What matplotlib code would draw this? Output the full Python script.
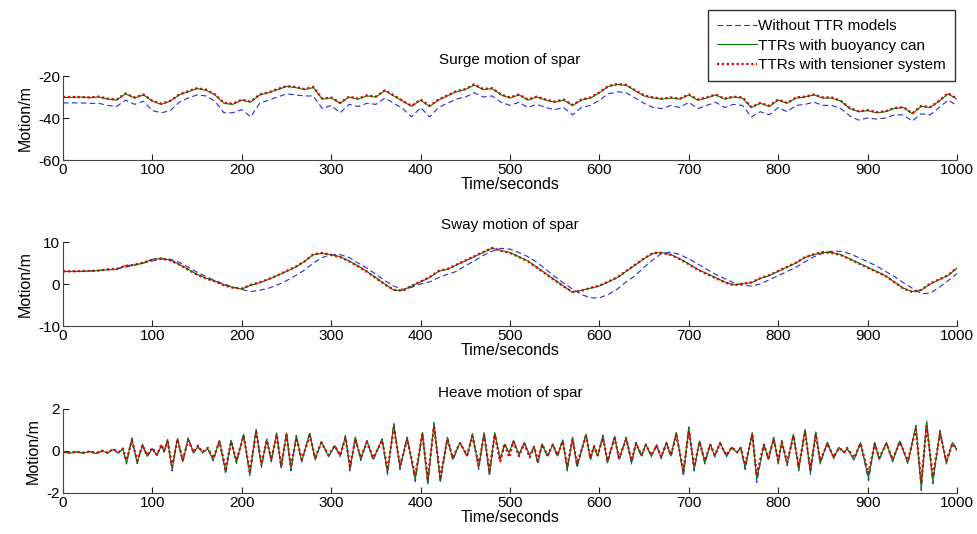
import numpy as np
import matplotlib
matplotlib.use("Agg")
import matplotlib.pyplot as plt

plt.rcParams['font.family'] = ['Liberation Sans', 'DejaVu Sans']
plt.rcParams['axes.unicode_minus'] = False

labels = ["Without TTR models", "TTRs with buoyancy can", "TTRs with tensioner system"]

# surge / sway are read every 10 s
t_10 = np.arange(0, 1001, 10)

surge_without = [
    -32.8, -32.8, -32.8, -33.0, -33.0, -34.0, -34.5, -31.5, -33.5, -32.0,
    -36.5, -37.5, -36.5, -32.5, -30.5, -29.0, -29.5, -32.0, -37.5, -37.5,
    -36.0, -39.5, -33.0, -31.5, -30.0, -28.5, -29.0, -29.5, -29.5, -35.5,
    -34.0, -37.5, -33.5, -34.5, -33.0, -33.5, -30.5, -33.0, -35.5, -39.5,
    -35.0, -39.5, -35.0, -33.0, -31.0, -30.0, -28.0, -30.0, -29.5, -32.5,
    -34.0, -32.5, -35.0, -33.5, -35.0, -36.0, -35.0, -38.5, -35.0, -34.0,
    -31.5, -28.5, -27.5, -28.0, -30.5, -33.0, -35.0, -35.5, -34.0, -35.0,
    -32.5, -35.5, -34.0, -32.5, -35.0, -33.5, -34.0, -39.5, -37.0, -38.5,
    -35.0, -37.0, -34.0, -33.5, -32.5, -34.0, -34.0, -35.5, -39.0, -41.0,
    -40.0, -40.5, -40.0, -38.5, -38.5, -41.5, -38.0, -38.5, -35.0, -31.5,
    -34.0]
surge_buoy = [
    -30.2, -30.2, -30.0, -30.3, -30.0, -31.0, -31.5, -28.5, -30.5, -29.0,
    -32.0, -33.5, -32.0, -29.0, -27.5, -26.0, -26.8, -29.0, -33.0, -33.5,
    -31.5, -32.5, -29.0, -28.0, -26.5, -25.0, -25.5, -26.5, -25.5, -31.0,
    -30.5, -33.0, -30.0, -31.0, -29.5, -30.0, -27.0, -29.5, -32.0, -34.5,
    -31.5, -34.5, -31.5, -29.5, -27.5, -26.5, -24.3, -26.5, -26.0, -29.0,
    -30.5, -29.0, -31.5, -30.0, -31.5, -32.5, -31.5, -34.0, -31.5, -30.5,
    -28.0, -25.0, -24.0, -24.5, -27.0, -29.5, -30.5, -31.0, -30.5, -31.0,
    -29.0, -31.5, -30.5, -29.0, -31.0, -30.0, -30.5, -35.0, -33.0, -34.5,
    -31.5, -33.0, -30.5, -30.0, -29.0, -30.5, -30.5, -32.0, -35.5, -37.0,
    -36.5, -37.5, -37.0, -35.5, -35.0, -38.0, -34.5, -35.0, -32.0, -28.5,
    -31.0]
surge_tens = [
    -30.0, -30.0, -30.0, -30.2, -29.8, -30.8, -31.2, -28.3, -30.2, -28.8,
    -31.8, -33.2, -31.8, -28.8, -27.2, -25.8, -26.5, -28.8, -32.8, -33.2,
    -31.2, -32.2, -28.8, -27.8, -26.2, -24.8, -25.2, -26.2, -25.2, -30.8,
    -30.2, -32.8, -29.8, -30.8, -29.2, -29.8, -26.8, -29.2, -31.8, -34.2,
    -31.2, -34.2, -31.2, -29.2, -27.2, -26.2, -24.0, -26.2, -25.8, -28.8,
    -30.2, -28.8, -31.2, -29.8, -31.2, -32.2, -31.2, -33.8, -31.2, -30.2,
    -27.8, -24.8, -23.8, -24.2, -26.8, -29.2, -30.2, -30.8, -30.2, -30.8,
    -28.8, -31.2, -30.2, -28.8, -30.8, -29.8, -30.2, -34.8, -32.8, -34.2,
    -31.2, -32.8, -30.2, -29.8, -28.8, -30.2, -30.2, -31.8, -35.2, -36.8,
    -36.2, -37.2, -36.8, -35.2, -34.8, -37.8, -34.2, -34.8, -31.8, -28.2,
    -30.8]

sway_without = [
    3.0, 3.0, 3.0, 3.1, 3.2, 3.4, 3.6, 4.0, 4.5, 5.0,
    5.5, 6.0, 5.9, 5.2, 4.0, 2.8, 1.8, 0.8, 0.0, -0.7,
    -1.3, -1.8, -1.5, -1.0, -0.2, 0.8, 2.0, 3.3, 5.0, 6.3,
    7.0, 7.0, 6.3, 5.0, 3.8, 2.3, 0.8, -0.5, -1.3, -0.8,
    0.0, 0.5, 1.5, 2.3, 3.0, 4.3, 5.5, 6.8, 7.8, 8.5,
    8.3, 7.5, 6.5, 5.2, 3.5, 1.8, 0.2, -1.2, -2.5, -3.3,
    -3.3, -2.5, -1.2, 0.5, 2.0, 4.0, 5.8, 7.3, 7.6, 7.0,
    6.0, 4.8, 3.5, 2.3, 1.3, 0.3, -0.3, -0.5, 0.0, 1.0,
    2.0, 3.0, 4.0, 5.3, 6.5, 7.3, 7.8, 7.8, 7.2, 6.3,
    5.3, 4.3, 3.0, 1.8, 0.3, -1.0, -2.3, -2.2, -0.8, 0.8,
    2.5]
sway_buoy = [
    3.0, 3.0, 3.0, 3.1, 3.2, 3.4, 3.5, 4.4, 4.5, 5.0,
    5.9, 6.0, 5.7, 4.7, 3.5, 2.3, 1.4, 0.7, -0.2, -0.8,
    -1.2, -0.3, 0.3, 1.1, 2.0, 3.0, 4.0, 5.3, 7.0, 7.3,
    7.0, 6.5, 5.5, 4.3, 3.0, 1.5, 0.0, -1.5, -1.5, -0.5,
    0.5, 1.5, 3.0, 3.5, 4.5, 5.5, 6.5, 7.5, 8.5, 8.0,
    7.5, 6.5, 5.5, 4.0, 2.5, 1.0, -0.5, -2.0, -1.5, -1.0,
    -0.5, 0.5, 1.5, 3.0, 4.5, 6.0, 7.3, 7.5, 7.0, 6.0,
    4.8, 3.5, 2.5, 1.5, 0.5, -0.2, 0.0, 0.3, 1.3, 2.0,
    3.0, 4.0, 5.0, 6.3, 7.0, 7.5, 7.5, 7.0, 6.0, 5.0,
    4.0, 3.0, 2.0, 0.5, -1.0, -1.8, -1.5, 0.0, 1.0, 2.0,
    3.8]
sway_tens = [
    3.0, 3.0, 3.1, 3.1, 3.2, 3.5, 3.6, 4.3, 4.6, 5.1,
    5.8, 6.1, 5.6, 4.6, 3.4, 2.2, 1.3, 0.6, -0.3, -0.9,
    -1.1, -0.2, 0.4, 1.2, 2.1, 3.1, 4.1, 5.4, 7.1, 7.4,
    6.9, 6.4, 5.4, 4.2, 2.9, 1.4, -0.1, -1.4, -1.6, -0.4,
    0.6, 1.6, 3.1, 3.6, 4.6, 5.6, 6.6, 7.6, 8.6, 7.9,
    7.4, 6.4, 5.4, 3.9, 2.4, 0.9, -0.6, -1.9, -1.6, -0.9,
    -0.4, 0.6, 1.6, 3.1, 4.6, 6.1, 7.4, 7.4, 6.9, 5.9,
    4.7, 3.4, 2.4, 1.4, 0.4, -0.3, 0.1, 0.4, 1.4, 2.1,
    3.1, 4.1, 5.1, 6.4, 7.1, 7.6, 7.4, 6.9, 5.9, 4.9,
    3.9, 2.9, 1.9, 0.4, -1.1, -1.9, -1.4, 0.1, 1.1, 2.1,
    3.9]

# heave is read at its peaks and troughs
heave_t = [
    0, 8, 15, 22, 30, 37, 44, 50, 56, 62,
    67, 71, 77, 83, 89, 94, 100, 105, 110, 113,
    117, 122, 128, 134, 140, 146, 151, 156, 162, 168,
    175, 182, 188, 194, 202, 209, 216, 222, 228, 233,
    239, 244, 250, 255, 261, 267, 276, 282, 289, 297,
    304, 310, 316, 321, 327, 333, 340, 347, 357, 363,
    370, 377, 385, 394, 402, 408, 415, 422, 430, 436,
    444, 452, 458, 465, 471, 477, 483, 489, 494, 499,
    504, 510, 516, 522, 527, 531, 536, 542, 548, 553,
    559, 564, 570, 575, 585, 590, 594, 598, 604, 609,
    617, 622, 630, 636, 641, 647, 652, 658, 664, 669,
    675, 680, 686, 694, 700, 706, 712, 718, 724, 729,
    735, 742, 748, 754, 758, 763, 771, 776, 784, 789,
    795, 800, 804, 810, 817, 823, 830, 836, 842, 847,
    855, 862, 868, 874, 877, 885, 892, 901, 908, 913,
    921, 928, 936, 945, 954, 960, 966, 973, 981, 988,
    995, 1000]
heave_without = [
    -0.05, -0.1, -0.05, -0.1, -0.03, -0.12, 0.0, -0.1, 0.08, -0.12,
    0.12, -0.62, 0.62, -0.6, 0.32, -0.28, 0.1, -0.22, 0.28, -0.05,
    0.55, -0.95, 0.62, -0.55, 0.62, -0.1, 0.2, -0.1, 0.12, -0.48,
    0.52, -1.1, 0.52, -0.6, 0.82, -1.2, 1.05, -0.78, 0.58, -0.52,
    0.88, -0.85, 0.88, -0.95, 0.75, -0.52, 0.88, -0.45, 0.45, -0.28,
    0.26, -0.28, 0.75, -0.95, 0.66, -0.45, 0.5, -0.45, 0.58, -1.12,
    1.3, -0.88, 0.66, -1.45, 0.92, -1.62, 1.36, -1.52, 0.66, -0.45,
    0.42, -0.28, 0.82, -0.88, 0.9, -1.2, 0.9, -0.45, 0.34, -0.1,
    0.5, -0.2, 0.42, -0.24, 0.22, -0.62, 0.34, -0.28, 0.34, -0.28,
    0.55, -0.95, 0.66, -0.8, 0.82, -0.45, 0.26, -0.28, 0.75, -0.62,
    0.72, -0.45, 0.66, -0.62, 0.42, -0.28, 0.34, -0.28, 0.3, -0.36,
    0.42, -0.28, 0.92, -1.2, 1.15, -0.95, 0.5, -0.62, 0.34, -0.28,
    0.42, -0.28, 0.18, -0.1, 0.18, -0.88, 0.9, -1.5, 0.34, -0.45,
    0.66, -0.62, 0.5, -0.7, 0.82, -0.95, 1.06, -1.12, 0.93, -0.62,
    0.42, -0.36, 0.18, -0.1, 0.12, -0.45, 0.42, -1.42, 0.42, -0.45,
    0.42, -0.52, 0.5, -0.62, 1.22, -1.88, 1.4, -1.55, 0.98, -0.62,
    0.42, 0.05]
heave_buoy = [
    -0.05, -0.1, -0.05, -0.1, -0.03, -0.12, 0.0, -0.1, 0.08, -0.1,
    0.1, -0.56, 0.6, -0.56, 0.3, -0.24, 0.1, -0.2, 0.25, -0.05,
    0.53, -0.88, 0.6, -0.5, 0.6, -0.08, 0.2, -0.08, 0.1, -0.43,
    0.5, -1.0, 0.5, -0.55, 0.8, -1.12, 1.02, -0.72, 0.56, -0.48,
    0.85, -0.8, 0.85, -0.88, 0.72, -0.48, 0.85, -0.4, 0.43, -0.24,
    0.24, -0.24, 0.72, -0.88, 0.64, -0.4, 0.48, -0.4, 0.56, -1.04,
    1.28, -0.8, 0.64, -1.36, 0.88, -1.52, 1.33, -1.44, 0.64, -0.4,
    0.4, -0.24, 0.8, -0.8, 0.88, -1.12, 0.88, -0.4, 0.32, -0.08,
    0.48, -0.16, 0.4, -0.2, 0.2, -0.56, 0.32, -0.24, 0.32, -0.24,
    0.53, -0.88, 0.64, -0.72, 0.8, -0.4, 0.24, -0.24, 0.72, -0.56,
    0.69, -0.4, 0.64, -0.56, 0.4, -0.24, 0.32, -0.24, 0.27, -0.32,
    0.4, -0.24, 0.88, -1.12, 1.12, -0.88, 0.48, -0.56, 0.32, -0.24,
    0.4, -0.24, 0.16, -0.08, 0.16, -0.8, 0.88, -1.36, 0.32, -0.4,
    0.64, -0.56, 0.48, -0.64, 0.8, -0.88, 1.04, -1.04, 0.91, -0.56,
    0.4, -0.32, 0.16, -0.08, 0.11, -0.4, 0.4, -1.28, 0.4, -0.4,
    0.4, -0.48, 0.48, -0.56, 1.2, -1.76, 1.39, -1.44, 0.96, -0.56,
    0.4, 0.05]
heave_tens = [
    -0.05, -0.08, -0.03, -0.08, -0.02, -0.1, 0.02, -0.08, 0.1, -0.05,
    0.12, -0.45, 0.5, -0.45, 0.28, -0.2, 0.15, -0.18, 0.3, 0.0,
    0.45, -0.72, 0.55, -0.42, 0.5, -0.05, 0.25, -0.05, 0.15, -0.35,
    0.45, -0.85, 0.45, -0.45, 0.7, -0.95, 0.9, -0.6, 0.5, -0.4,
    0.75, -0.7, 0.75, -0.75, 0.62, -0.4, 0.72, -0.32, 0.4, -0.2,
    0.25, -0.2, 0.62, -0.72, 0.55, -0.32, 0.42, -0.32, 0.5, -0.88,
    1.1, -0.68, 0.55, -1.15, 0.78, -1.3, 1.15, -1.22, 0.55, -0.32,
    0.38, -0.2, 0.7, -0.65, 0.75, -0.9, 0.75, -0.5, 0.35, -0.3,
    0.45, -0.25, 0.35, -0.3, 0.2, -0.45, 0.3, -0.2, 0.3, -0.2,
    0.45, -0.72, 0.55, -0.6, 0.7, -0.32, 0.22, -0.2, 0.62, -0.45,
    0.6, -0.32, 0.55, -0.45, 0.35, -0.2, 0.3, -0.2, 0.25, -0.28,
    0.35, -0.2, 0.75, -0.92, 0.95, -0.72, 0.42, -0.45, 0.3, -0.2,
    0.35, -0.2, 0.18, -0.05, 0.15, -0.65, 0.75, -1.1, 0.3, -0.32,
    0.55, -0.45, 0.42, -0.52, 0.7, -0.72, 0.88, -0.85, 0.78, -0.45,
    0.35, -0.28, 0.15, -0.05, 0.15, -0.32, 0.35, -1.05, 0.35, -0.32,
    0.35, -0.4, 0.42, -0.45, 1.02, -1.45, 1.18, -1.2, 0.82, -0.45,
    0.35, 0.05]

panels = [
    ("Surge motion of spar", t_10, surge_without, surge_buoy, surge_tens, (-60, -20), [-60, -40, -20]),
    ("Sway motion of spar", t_10, sway_without, sway_buoy, sway_tens, (-10, 10), [-10, 0, 10]),
    ("Heave motion of spar", heave_t, heave_without, heave_buoy, heave_tens, (-2, 2), [-2, 0, 2]),
]

fig = plt.figure(figsize=(9.77, 5.34), dpi=100)
W, H = 977, 534
ax_tops = [76, 242, 409]
ax_h = 84
left, right = 63, 957

handles = None
for (title, t, yw, yb, yt, ylim, yticks), top in zip(panels, ax_tops):
    ax = fig.add_axes([left / W, 1 - (top + ax_h) / H, (right - left) / W, ax_h / H])
    l1, = ax.plot(t, yw, color='#2a2ad0', ls=(0, (5, 3)), lw=0.8)
    l2, = ax.plot(t, yb, color='#008000', ls='-', lw=0.8)
    l3, = ax.plot(t, yt, color='#e00000', ls=(0, (1, 1.2)), lw=1.6)
    handles = [l1, l2, l3]
    ax.set_xlim(0, 1000)
    ax.set_ylim(*ylim)
    ax.set_xticks(np.arange(0, 1001, 100))
    ax.set_yticks(yticks)
    ax.spines['top'].set_visible(False)
    ax.spines['right'].set_visible(False)
    ax.spines['left'].set_color('#444444')
    ax.spines['bottom'].set_color('#444444')
    ax.tick_params(direction='in', length=4, width=0.8, labelsize=11, pad=2, colors='#222222', labelcolor='black')
    ax.set_title(title, fontsize=11, pad=9)
    ax.set_xlabel("Time/seconds", fontsize=11.5, labelpad=0)
    ax.set_ylabel("Motion/m", fontsize=11.5, labelpad=4)

fig.legend(handles, labels, loc='upper right', bbox_to_anchor=(955 / W, 1 - 10 / H),
           fontsize=11, frameon=True, fancybox=False, edgecolor='black',
           handlelength=2.6, handletextpad=0.1, labelspacing=0.35, borderpad=0.6,
           borderaxespad=0)

fig.savefig("out.png", dpi=100)
